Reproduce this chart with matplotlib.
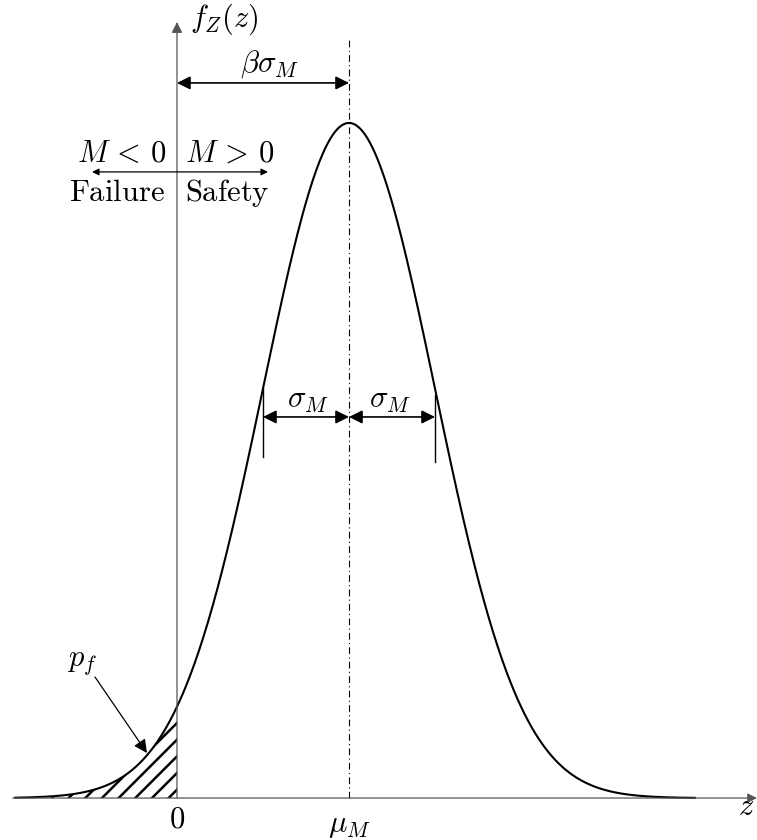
import numpy as np
import matplotlib.pyplot as plt

plt.rcParams['mathtext.fontset'] = 'cm'
plt.rcParams['hatch.linewidth'] = 1.8

# safety margin M ~ N(mu_M, sigma_M), reliability index beta = mu_M / sigma_M
mu_M = 2.0
sigma_M = 1.0
z_start, z_end = -1.88, 6.02


def pdf(z):
    return np.exp(-0.5 * ((z - mu_M) / sigma_M) ** 2) / (sigma_M * np.sqrt(2 * np.pi))


z = np.linspace(z_start, z_end, 600)
fz = pdf(z)

fig = plt.figure(figsize=(7.57, 8.4), dpi=100)
ax = fig.add_axes([0, 0, 1, 1])
ax.set_xlim(-2.058, 6.744)
ax.set_ylim(-0.0248, 0.4716)
ax.axis('off')

fs = 22

# axes
ax.annotate('', xy=(6.744, 0), xytext=(-1.91, 0),
            arrowprops=dict(arrowstyle='-|>', color='#555555', lw=0.9,
                            mutation_scale=14, shrinkA=0, shrinkB=0))
ax.annotate('', xy=(0, 0.4586), xytext=(0, 0),
            arrowprops=dict(arrowstyle='-|>', color='#555555', lw=0.9,
                            mutation_scale=16, shrinkA=0, shrinkB=0))

# failure region
zf = z[z <= 0]
ax.fill_between(np.append(zf, 0), 0, np.append(pdf(zf), pdf(0)),
                facecolor='none', edgecolor='black', hatch='//', linewidth=0)

ax.plot(z, fz, color='black', lw=1.5)

# mean line
ax.plot([mu_M, mu_M], [0, 0.448], color='black', lw=0.8, ls=(0, (6, 3, 1, 3)))

arrow_kw = dict(arrowstyle='<|-|>', color='black', lw=1.2,
                mutation_scale=20, shrinkA=0, shrinkB=0)

# beta * sigma
ax.annotate('', xy=(mu_M, 0.4226), xytext=(0, 0.4226), arrowprops=arrow_kw)
ax.text(1.08, 0.4335, r'$\beta\sigma_M$', fontsize=fs, ha='center', va='center')

# failure / safety domains
ax.annotate('', xy=(1.058, 0.370), xytext=(-0.988, 0.370),
            arrowprops=dict(arrowstyle='<|-|>', color='black', lw=0.9,
                            mutation_scale=10, shrinkA=0, shrinkB=0))
ax.text(-0.64, 0.381, r'$M\,<\,0$', fontsize=fs, ha='center', va='center')
ax.text(0.616, 0.381, r'$M\,>\,0$', fontsize=fs, ha='center', va='center')
ax.text(-0.70, 0.3576, r'$\mathrm{Failure}$', fontsize=fs, ha='center', va='center')
ax.text(0.59, 0.3576, r'$\mathrm{Safety}$', fontsize=fs, ha='center', va='center')

# one sigma either side
ax.plot([mu_M - sigma_M] * 2, [0.2015, 0.2423], color='black', lw=1.0)
ax.plot([mu_M + sigma_M] * 2, [0.1986, 0.2382], color='black', lw=1.0)
ax.annotate('', xy=(mu_M, 0.2252), xytext=(mu_M - sigma_M, 0.2252), arrowprops=arrow_kw)
ax.annotate('', xy=(mu_M + sigma_M, 0.2252), xytext=(mu_M, 0.2252), arrowprops=arrow_kw)
ax.text(1.52, 0.2352, r'$\sigma_M$', fontsize=fs, ha='center', va='center')
ax.text(2.48, 0.2352, r'$\sigma_M$', fontsize=fs, ha='center', va='center')

# probability of failure
ax.annotate('', xy=(-0.349, 0.0266), xytext=(-0.953, 0.0715),
            arrowprops=dict(arrowstyle='-|>', color='black', lw=0.9,
                            mutation_scale=20, shrinkA=0, shrinkB=0))
ax.text(-1.10, 0.0800, r'$p_f$', fontsize=fs, ha='center', va='center')

# axis labels
ax.text(0.151, 0.4605, r'$f_Z(z)$', fontsize=fs, ha='left', va='center')
ax.text(6.52, -0.005, r'$z$', fontsize=fs, ha='left', va='center')
ax.text(0, -0.0125, r'$0$', fontsize=fs, ha='center', va='center')
ax.text(mu_M, -0.0165, r'$\mu_M$', fontsize=fs, ha='center', va='center')

fig.savefig('out.png', dpi=100)
